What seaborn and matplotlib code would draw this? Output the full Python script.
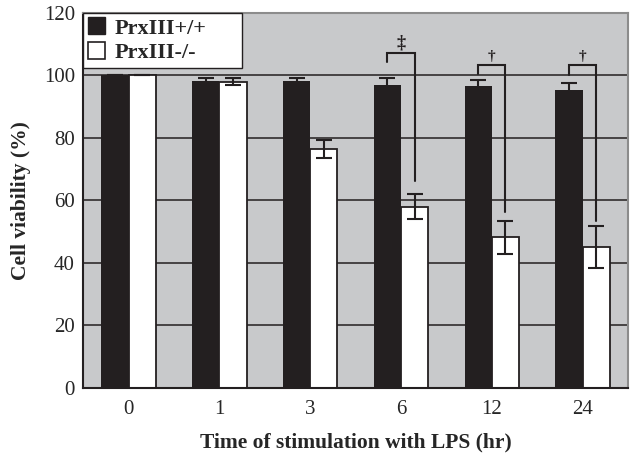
import matplotlib
matplotlib.use("Agg")
import matplotlib.pyplot as plt
import numpy as np
import pandas as pd
import seaborn as sns
from matplotlib.patches import Patch

# data
times = ["0", "1", "3", "6", "12", "24"]
wt_mean = [100.0, 98.3, 98.2, 97.0, 96.5, 95.3]
wt_err = [0.0, 1.0, 1.0, 2.1, 2.2, 2.2]
ko_mean = [100.0, 98.0, 76.5, 58.0, 48.2, 45.0]
ko_err = [0.0, 1.2, 3.0, 4.0, 5.3, 6.7]

# significance brackets: (group index, bracket top, left leg end, right leg end, mark)
sig_groups = [3, 4, 5]
sig_top = [107.1, 103.5, 103.5]
sig_left_end = [104.4, 100.5, 100.2]
sig_right_end = [66.2, 56.4, 53.4]
sig_marks = ["\u2021", "\u2020", "\u2020"]

df = pd.DataFrame({
    "time": times * 2,
    "viability": wt_mean + ko_mean,
    "err": wt_err + ko_err,
    "genotype": ["PrxIII+/+"] * len(times) + ["PrxIII-/-"] * len(times),
})

sns.set_style("white")
plt.rcParams["font.family"] = ["Liberation Serif", "DejaVu Serif"]

fig = plt.figure(figsize=(6.3, 4.54), dpi=100)
ax = fig.add_axes([0.132, 0.1454, 0.865, 0.826])
ax.set_facecolor("#c8c9cb")

bar_black = "#231f20"
sns.barplot(data=df, x="time", y="viability", hue="genotype", order=times,
            palette=[bar_black, "white"], width=0.6, errorbar=None,
            saturation=1, ax=ax, legend=False, zorder=2)

for cont, errs in zip(ax.containers, [wt_err, ko_err]):
    xs = [p.get_x() + p.get_width() / 2 for p in cont.patches]
    hs = [p.get_height() for p in cont.patches]
    ax.errorbar(xs, hs, yerr=errs, fmt="none", ecolor=bar_black,
                elinewidth=1.5, capsize=5.5, capthick=1.5, zorder=3)

for p in ax.containers[0].patches:
    p.set_edgecolor(bar_black)
    p.set_linewidth(0)
for p in ax.containers[1].patches:
    p.set_edgecolor(bar_black)
    p.set_linewidth(1.3)

for g, top, lend, rend, mark in zip(sig_groups, sig_top, sig_left_end,
                                     sig_right_end, sig_marks):
    pl = ax.containers[0].patches[g]
    pr = ax.containers[1].patches[g]
    xl = pl.get_x() + pl.get_width() / 2
    xr = pr.get_x() + pr.get_width() / 2
    ax.plot([xl, xl, xr, xr], [lend, top, top, rend], color=bar_black,
            lw=1.5, zorder=4, solid_joinstyle="miter")
    ax.text((xl + xr) / 2, top + 0.6, mark, ha="center", va="bottom",
            fontsize=13 if mark == "\u2021" else 11, color=bar_black,
            fontweight="bold")

ax.set_ylim(0, 120)
ax.set_xlim(-0.5, len(times) - 0.5)
ax.set_yticks(np.arange(0, 121, 20))
ax.yaxis.grid(True, color=bar_black, lw=1.1, zorder=1)
ax.xaxis.grid(False)
ax.set_axisbelow(True)

ax.tick_params(axis="y", length=0, labelsize=15, pad=6)
ax.tick_params(axis="x", which="major", length=0, labelsize=15, pad=9)
ax.set_xticks(np.arange(0.5, len(times) - 0.5, 1), minor=True)
ax.tick_params(axis="x", which="minor", direction="in", length=5,
               width=1.2, color=bar_black)

for side in ["left", "bottom"]:
    ax.spines[side].set_color(bar_black)
    ax.spines[side].set_linewidth(1.5)
for side in ["top", "right"]:
    ax.spines[side].set_color("#8c8c8c")
    ax.spines[side].set_linewidth(1.5)

ax.set_xlabel("Time of stimulation with LPS (hr)", fontsize=15.5,
              fontweight="bold", labelpad=9)
ax.set_ylabel("Cell viability (%)", fontsize=15.5, fontweight="bold", labelpad=9)

handles = [Patch(facecolor=bar_black, edgecolor=bar_black, label="PrxIII+/+"),
           Patch(facecolor="white", edgecolor=bar_black, lw=1.2, label="PrxIII-/-")]
leg = ax.legend(handles=handles, loc="upper left", borderaxespad=0,
                bbox_to_anchor=(0, 1, 0.292, 0), mode="expand",
                fancybox=False, framealpha=1, edgecolor=bar_black,
                prop={"size": 16, "weight": "bold"}, handlelength=0.8,
                handleheight=0.8, handletextpad=0.4, labelspacing=0.15,
                borderpad=0.2)
leg.get_frame().set_linewidth(1.0)
leg.set_zorder(5)

fig.savefig("out.png", dpi=100)
